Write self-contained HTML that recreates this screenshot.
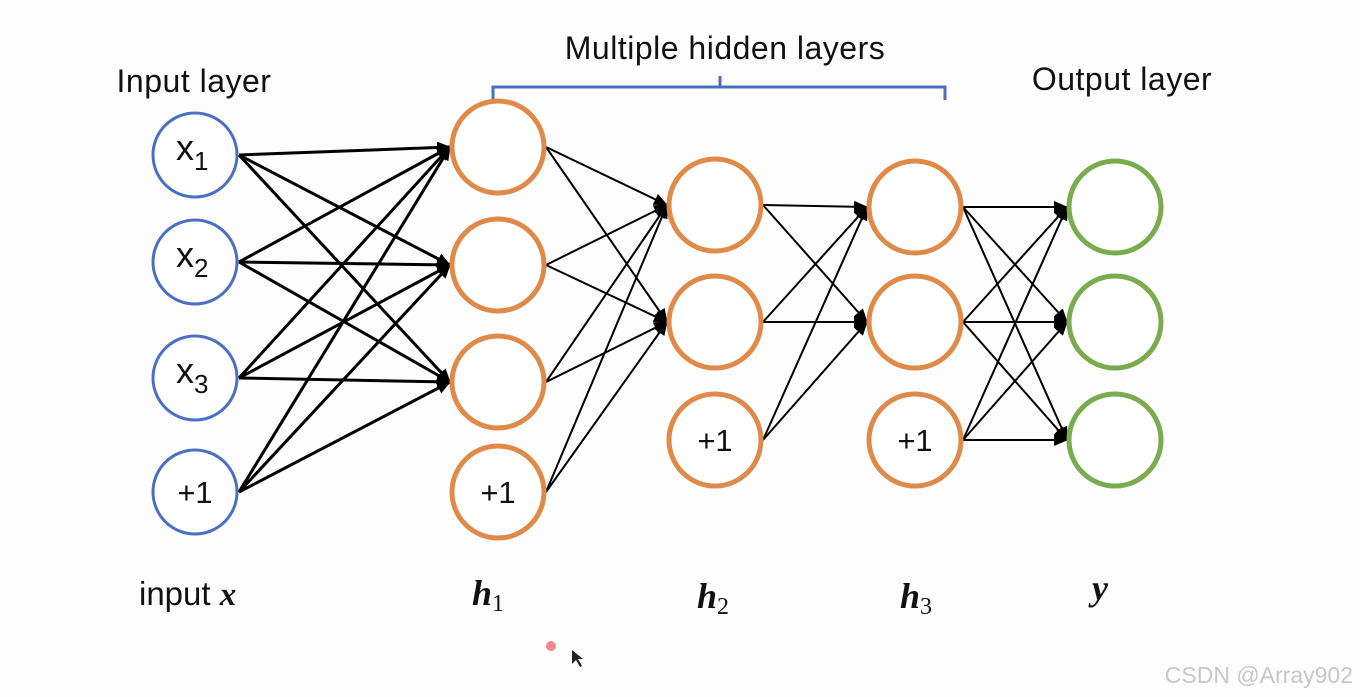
<!DOCTYPE html>
<html><head><meta charset="utf-8"><style>
html,body{margin:0;padding:0;background:#fdfdfd;}
svg{display:block}
</style></head><body>
<svg id="s" width="1360" height="697" viewBox="0 0 1360 697" xmlns="http://www.w3.org/2000/svg" style="font-family:'Liberation Sans',sans-serif">
<defs>
<marker id="b" markerWidth="14" markerHeight="12" refX="13" refY="6" orient="auto" markerUnits="userSpaceOnUse" viewBox="0 0 14 12"><path d="M0,0 L14,6 L0,12 z" fill="#000"/></marker>
</defs>
<g id="edges"></g>
<path d="M493,100 L493,87 L945,87 L945,100 M720,87 L720,76" fill="none" stroke="#4a6fbf" stroke-width="3"/>
<text x="725" y="59" font-size="32" text-anchor="middle" fill="#111" style="letter-spacing:0.5px">Multiple hidden layers</text>
<text x="194" y="92" font-size="32" text-anchor="middle" fill="#111" style="letter-spacing:0.5px">Input layer</text>
<text x="1122" y="90" font-size="32" text-anchor="middle" fill="#111" style="letter-spacing:0.5px">Output layer</text>
<g id="nodes"></g>
<text x="139" y="605" font-size="33" fill="#111">input <tspan style="font-family:'Liberation Serif',serif;font-weight:bold;font-style:italic">x</tspan></text>
<text x="472" y="605" style="font-family:'Liberation Serif',serif;font-weight:bold;font-style:italic;font-size:36px" fill="#111">h<tspan style="font-size:24px;font-weight:normal;font-style:normal" dy="6">1</tspan></text>
<text x="697" y="608" style="font-family:'Liberation Serif',serif;font-weight:bold;font-style:italic;font-size:36px" fill="#111">h<tspan style="font-size:24px;font-weight:normal;font-style:normal" dy="6">2</tspan></text>
<text x="900" y="608" style="font-family:'Liberation Serif',serif;font-weight:bold;font-style:italic;font-size:36px" fill="#111">h<tspan style="font-size:24px;font-weight:normal;font-style:normal" dy="6">3</tspan></text>
<text x="1092" y="600" style="font-family:'Liberation Serif',serif;font-weight:bold;font-style:italic;font-size:36px" fill="#111">y</text>
<circle cx="551" cy="646" r="5" fill="#f08a8a"/>
<path d="M572,650 L572,664 L576,660 L580,667 L582,666 L578,659 L583,659 z" fill="#222"/>
<text x="1353" y="683" font-size="23" text-anchor="end" fill="#c8c8c8">CSDN @Array902</text>
</svg>
<script>
var NS="http://www.w3.org/2000/svg";
var L=[
 {x:195,r:42,c:"#4b6fc2",ys:[155,262,378,492],lab:["x1","x2","x3","+1"]},
 {x:498,r:46,c:"#e08a4a",ys:[147,265,382,492],lab:["","","","+1"]},
 {x:715,r:46,c:"#e08a4a",ys:[205,322,440],lab:["","","+1"]},
 {x:915,r:46,c:"#e08a4a",ys:[207,322,440],lab:["","","+1"]},
 {x:1115,r:46,c:"#7aab4f",ys:[207,322,440],lab:["","",""]}
];
var tgt=[3,2,2,3];
var E=document.getElementById("edges"),N=document.getElementById("nodes");
for(var i=0;i<4;i++){
 var A=L[i],B=L[i+1];
 for(var a=0;a<A.ys.length;a++)for(var b=0;b<tgt[i];b++){
  var l=document.createElementNS(NS,"line");
  l.setAttribute("x1",A.x+A.r+2);l.setAttribute("y1",A.ys[a]);
  l.setAttribute("x2",B.x-B.r-2);l.setAttribute("y2",B.ys[b]);
  l.setAttribute("stroke","#000");l.setAttribute("stroke-width",i==0?3:2);
  l.setAttribute("marker-end","url(#b)");
  E.appendChild(l);
 }
}
L.forEach(function(A){A.ys.forEach(function(y,k){
 var c=document.createElementNS(NS,"circle");
 c.setAttribute("cx",A.x);c.setAttribute("cy",y);c.setAttribute("r",A.r);
 c.setAttribute("fill","#fff");c.setAttribute("stroke",A.c);c.setAttribute("stroke-width",A.r==42?3:5);
 N.appendChild(c);
 var s=A.lab[k];
 if(s){
  var t=document.createElementNS(NS,"text");
  t.setAttribute("fill","#111");
  if(s=="+1"){t.setAttribute("font-size","31");t.setAttribute("x",A.x);t.setAttribute("y",y+11);t.setAttribute("text-anchor","middle");t.textContent="+1";}
  else{t.setAttribute("font-size","36");t.setAttribute("x",A.x-19);t.setAttribute("y",y+5);
   t.appendChild(document.createTextNode("x"));
   var sp=document.createElementNS(NS,"tspan");sp.setAttribute("font-size","26");sp.setAttribute("dy","10");sp.textContent=s[1];t.appendChild(sp);}
  N.appendChild(t);
 }
});});
</script>
</body></html>
